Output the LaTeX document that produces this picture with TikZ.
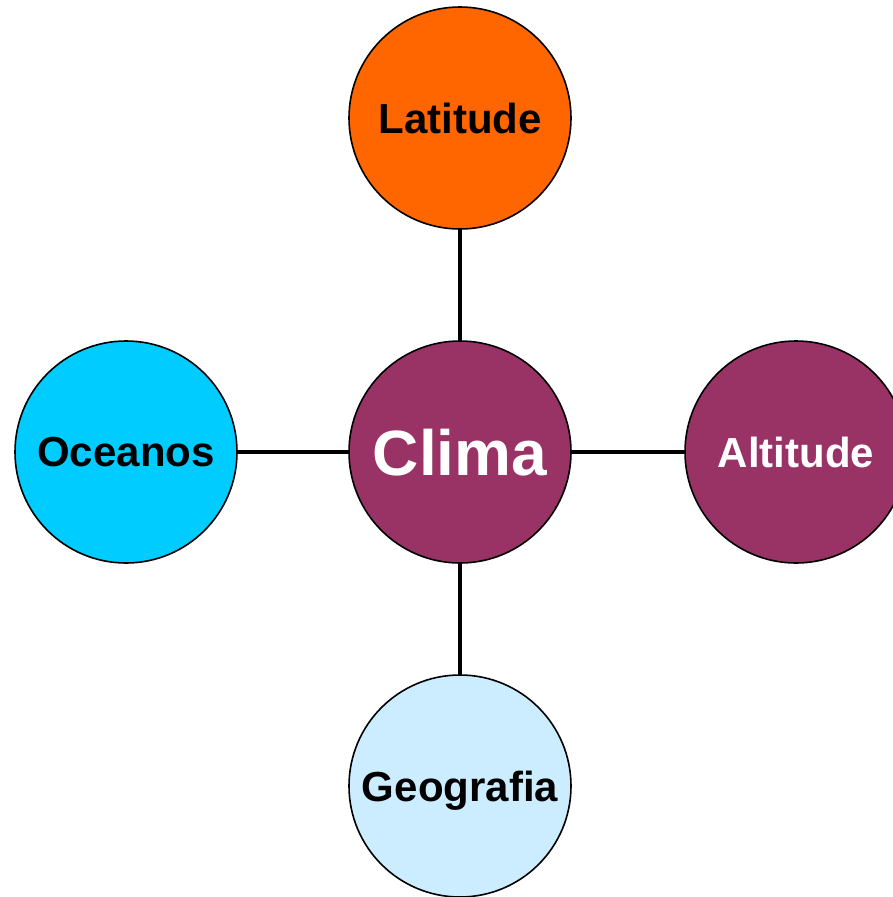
\documentclass[tikz,border=0pt]{standalone}
\usepackage{fontspec}
\setmainfont{Liberation Sans}
\definecolor{orangeC}{HTML}{FF6600}
\definecolor{plumC}{HTML}{993366}
\definecolor{cyanC}{HTML}{00CCFF}
\definecolor{paleC}{HTML}{CCECFF}
\tikzset{
  bubble/.style={circle, draw=black, line width=1.6pt, minimum size=222pt, inner sep=0pt,
    text depth=0pt,
    font=\fontsize{42}{48}\selectfont\bfseries},
  link/.style={line width=4.5pt, draw=black}
}
\begin{document}
\begin{tikzpicture}[x=1pt,y=-1pt]
\useasboundingbox (0,0) rectangle (893,897);
\clip (0,0) rectangle (893,897);
\node[bubble, fill=orangeC, text=black] (lat) at (460,118) {Latitude};
\node[bubble, fill=plumC, text=white, font=\fontsize{64}{72}\selectfont\bfseries] (clima) at (460,452) {Clima};
\node[bubble, fill=cyanC, text=black] (oce) at (126,452) {Oceanos};
\node[bubble, fill=plumC, text=white] (alt) at (796,452) {Altitude};
\node[bubble, fill=paleC, text=black] (geo) at (460,786) {Geografia};
\draw[link] (clima) -- (lat);
\draw[link] (clima) -- (oce);
\draw[link] (clima) -- (alt);
\draw[link] (clima) -- (geo);
\end{tikzpicture}
\end{document}
